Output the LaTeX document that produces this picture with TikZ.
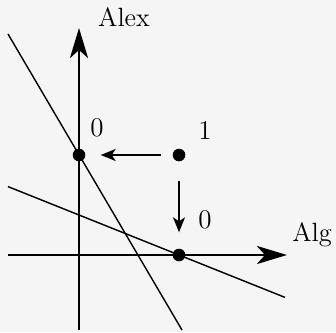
\documentclass[tikz,border=0pt]{standalone}
\usepackage{tikz}
\usetikzlibrary{arrows.meta, positioning}

\definecolor{bggray}{HTML}{F5F5F5}

\begin{document}
\begin{tikzpicture}[
    x=50pt, y=50pt,
    axis/.style={line width=1.4pt, -{Stealth[length=15pt, width=9pt, inset=4pt]}},
    bline/.style={line width=0.7pt},
    dot/.style={circle, fill, inner sep=0pt, minimum size=6.3pt},
    num/.style={font=\fontsize{13.5}{16}\selectfont},
    axlabel/.style={font=\fontsize{13.2}{16}\selectfont},
    arrow/.style={line width=0.7pt, -{Stealth[length=7.5pt, width=6pt, inset=2pt]}}
]
% Background and margins
\fill[bggray] (-0.79,-0.77) rectangle (2.57,2.55);
\useasboundingbox (-0.79,-0.77) rectangle (2.57,2.55);

% Axes
\coordinate (xs) at (-0.71,0);
\coordinate (xe) at (2.08,0);
\coordinate (ys) at (0,-0.75);
\coordinate (ye) at (0,2.27);
\draw[axis] (xs) -- (xe);
\draw[axis] (ys) -- (ye);
\node[axlabel] (alex) at (0.45,2.38) {Alex};
\node[axlabel] (alg) at (2.33,0.20) {Alg};

% Lines
\coordinate (a1) at (-0.71,2.21);
\coordinate (a2) at (1.03,-0.75);
\coordinate (b1) at (-0.71,0.684);
\coordinate (b2) at (2.06,-0.424);
\draw[bline] (a1) -- (a2);
\draw[bline] (b1) -- (b2);

% Points
\node[dot] (p01) at (0,1) {};
\node[dot] (p11) at (1,1) {};
\node[dot] (p10) at (1,0) {};
\node[num] (l01) at (0.18,1.27) {0};
\node[num] (l11) at (1.26,1.24) {1};
\node[num] (l10) at (1.26,0.35) {0};

% Deviations
\draw[arrow, shorten <=5.5pt, shorten >=7.5pt] (p11) -- (p01);
\draw[arrow, shorten <=9.5pt, shorten >=8pt] (p11) -- (p10);
\end{tikzpicture}
\end{document}
